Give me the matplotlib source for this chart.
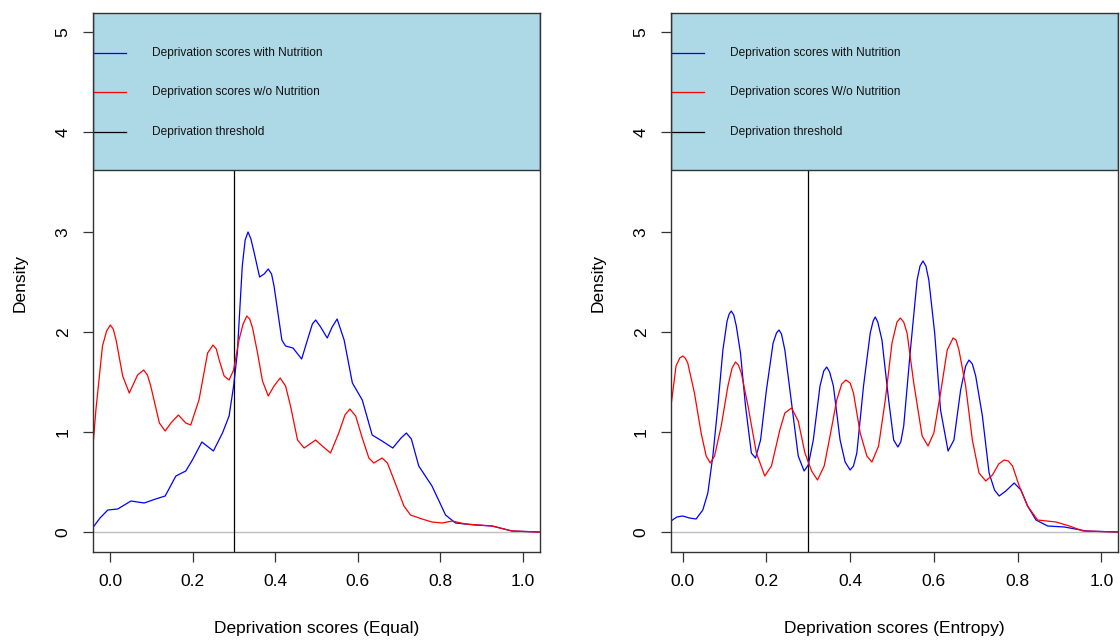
import matplotlib
matplotlib.use("Agg")
import matplotlib.pyplot as plt
import matplotlib.transforms as mtransforms
from matplotlib.patches import Rectangle

plt.rcParams['font.family'] = ['Liberation Sans', 'DejaVu Sans']

# ---- values (density curves) ----
eq_blue_x = [-0.043, -0.025, -0.006, 0.018, 0.05, 0.082, 0.11, 0.133, 0.159, 0.183, 0.199, 0.222, 0.25,
             0.272, 0.288, 0.299, 0.308, 0.32, 0.327, 0.334, 0.341, 0.349, 0.362, 0.373, 0.383, 0.391,
             0.397, 0.416, 0.425, 0.443, 0.464, 0.478, 0.49, 0.498, 0.51, 0.526, 0.538, 0.55, 0.567,
             0.587, 0.611, 0.635, 0.659, 0.685, 0.705, 0.718, 0.73, 0.748, 0.78, 0.813, 0.837, 0.885,
             0.926, 0.974, 1.04]
eq_blue_y = [0.04, 0.14, 0.22, 0.23, 0.31, 0.29, 0.33, 0.36, 0.56, 0.61, 0.72, 0.90, 0.81,
             0.99, 1.16, 1.46, 1.79, 2.66, 2.92, 3.0, 2.93, 2.79, 2.55, 2.58, 2.63, 2.58,
             2.46, 1.92, 1.86, 1.84, 1.73, 1.92, 2.08, 2.12, 2.05, 1.94, 2.05, 2.13, 1.92,
             1.49, 1.32, 0.97, 0.91, 0.84, 0.94, 0.99, 0.93, 0.66, 0.46, 0.17, 0.09, 0.07,
             0.06, 0.01, 0.0]

eq_red_x = [-0.043, -0.035, -0.019, -0.009, 0.0, 0.007, 0.014, 0.03, 0.046, 0.066, 0.081, 0.09,
            0.098, 0.119, 0.133, 0.147, 0.165, 0.183, 0.195, 0.215, 0.236, 0.249, 0.257, 0.264,
            0.276, 0.288, 0.299, 0.312, 0.322, 0.331, 0.338, 0.345, 0.357, 0.369, 0.383, 0.397,
            0.412, 0.425, 0.437, 0.454, 0.47, 0.498, 0.514, 0.534, 0.554, 0.569, 0.581, 0.595,
            0.611, 0.627, 0.639, 0.659, 0.672, 0.688, 0.712, 0.728, 0.756, 0.78, 0.805, 0.829,
            0.861, 0.926, 0.974, 1.04]
eq_red_y = [0.81, 1.22, 1.86, 2.01, 2.07, 2.03, 1.92, 1.56, 1.39, 1.57, 1.62, 1.57,
            1.46, 1.09, 1.01, 1.09, 1.17, 1.09, 1.07, 1.32, 1.79, 1.87, 1.83, 1.72,
            1.56, 1.52, 1.62, 1.92, 2.08, 2.16, 2.13, 2.04, 1.79, 1.51, 1.36, 1.46,
            1.54, 1.46, 1.26, 0.92, 0.84, 0.92, 0.86, 0.79, 0.99, 1.17, 1.23, 1.16,
            0.94, 0.74, 0.69, 0.74, 0.69, 0.52, 0.26, 0.17, 0.13, 0.10, 0.09, 0.11,
            0.08, 0.06, 0.01, 0.0]

en_blue_x = [-0.028, -0.014, 0.0, 0.016, 0.032, 0.048, 0.06, 0.072, 0.084, 0.096, 0.106, 0.111,
             0.116, 0.122, 0.128, 0.138, 0.15, 0.164, 0.174, 0.186, 0.2, 0.216, 0.224, 0.23,
             0.236, 0.244, 0.26, 0.276, 0.29, 0.3, 0.312, 0.328, 0.337, 0.344, 0.351, 0.36,
             0.376, 0.388, 0.4, 0.408, 0.416, 0.432, 0.448, 0.455, 0.46, 0.466, 0.476, 0.492,
             0.504, 0.514, 0.521, 0.528, 0.544, 0.56, 0.567, 0.574, 0.581, 0.588, 0.602, 0.616,
             0.634, 0.648, 0.664, 0.676, 0.684, 0.692, 0.7, 0.716, 0.732, 0.745, 0.756, 0.772,
             0.792, 0.808, 0.824, 0.844, 0.872, 0.912, 0.964, 1.04]
en_blue_y = [0.11, 0.15, 0.16, 0.14, 0.13, 0.22, 0.39, 0.76, 1.26, 1.82, 2.11, 2.18,
             2.21, 2.17, 2.06, 1.79, 1.26, 0.79, 0.74, 0.92, 1.42, 1.89, 1.99, 2.02,
             1.98, 1.82, 1.29, 0.76, 0.61, 0.67, 0.92, 1.46, 1.61, 1.65, 1.60, 1.46,
             0.92, 0.70, 0.62, 0.66, 0.79, 1.46, 1.99, 2.11, 2.15, 2.10, 1.92, 1.32,
             0.92, 0.85, 0.90, 1.06, 1.82, 2.52, 2.66, 2.71, 2.66, 2.52, 1.99, 1.22,
             0.81, 0.92, 1.42, 1.66, 1.72, 1.68, 1.56, 1.16, 0.59, 0.42, 0.36, 0.41,
             0.49, 0.42, 0.26, 0.12, 0.06, 0.05, 0.01, 0.0]

en_red_x = [-0.028, -0.016, -0.007, 0.0, 0.006, 0.012, 0.028, 0.044, 0.056, 0.066, 0.076, 0.092,
            0.108, 0.118, 0.126, 0.133, 0.14, 0.156, 0.176, 0.196, 0.212, 0.232, 0.244, 0.26,
            0.276, 0.292, 0.308, 0.322, 0.338, 0.352, 0.368, 0.38, 0.39, 0.4, 0.408, 0.424,
            0.44, 0.452, 0.468, 0.484, 0.5, 0.512, 0.52, 0.528, 0.536, 0.552, 0.572, 0.586,
            0.6, 0.616, 0.632, 0.646, 0.653, 0.66, 0.676, 0.692, 0.708, 0.724, 0.74, 0.755,
            0.768, 0.778, 0.788, 0.804, 0.824, 0.848, 0.892, 0.924, 0.956, 1.04]
en_red_y = [1.26, 1.66, 1.74, 1.76, 1.74, 1.69, 1.39, 0.99, 0.76, 0.69, 0.76, 1.06,
            1.46, 1.64, 1.70, 1.67, 1.59, 1.26, 0.79, 0.56, 0.66, 1.02, 1.19, 1.24,
            1.11, 0.79, 0.61, 0.52, 0.66, 0.96, 1.32, 1.48, 1.52, 1.49, 1.39, 0.99,
            0.76, 0.70, 0.86, 1.32, 1.89, 2.10, 2.14, 2.10, 1.99, 1.49, 0.96, 0.86,
            0.99, 1.39, 1.82, 1.94, 1.92, 1.82, 1.46, 0.92, 0.59, 0.51, 0.57, 0.68,
            0.72, 0.71, 0.66, 0.46, 0.26, 0.12, 0.10, 0.06, 0.01, 0.0]

threshold = 0.3
x_ticks = [0.0, 0.2, 0.4, 0.6, 0.8, 1.0]
y_ticks = [0, 1, 2, 3, 4, 5]

panels = [
    dict(bx=eq_blue_x, by=eq_blue_y, rx=eq_red_x, ry=eq_red_y, xlim=(-0.042, 1.042),
         xlabel="Deprivation scores (Equal)",
         labels=["Deprivation scores with Nutrition", "Deprivation scores w/o Nutrition",
                 "Deprivation threshold"]),
    dict(bx=en_blue_x, by=en_blue_y, rx=en_red_x, ry=en_red_y, xlim=(-0.028, 1.040),
         xlabel="Deprivation scores (Entropy)",
         labels=["Deprivation scores with Nutrition", "Deprivation scores W/o Nutrition",
                 "Deprivation threshold"]),
]

fig = plt.figure(figsize=(11.2, 6.43), dpi=100)
lefts = [93 / 1120, 671 / 1120]
width = 447 / 1120
bottom = 1 - 552 / 643
height = (552 - 13) / 643

for p, left in zip(panels, lefts):
    ax = fig.add_axes([left, bottom, width, height])
    ax.set_xlim(*p["xlim"])
    ax.set_ylim(-0.2, 5.19)

    ax.axhline(0, color="#bebebe", lw=1, zorder=1)
    ax.axvline(threshold, color="black", lw=0.9, zorder=2)
    ax.plot(p["bx"], p["by"], color="blue", lw=0.9, zorder=3)
    ax.plot(p["rx"], p["ry"], color="red", lw=0.9, zorder=3)

    # legend block (R style, lightblue background across the top)
    trans = mtransforms.blended_transform_factory(ax.transAxes, ax.transData)
    ax.add_patch(Rectangle((0, 3.62), 1, 1.7, transform=trans, facecolor="#add8e6",
                           edgecolor="#333333", lw=1, zorder=5))
    for lab, col, yy in zip(p["labels"], ["blue", "red", "black"], [4.79, 4.40, 4.00]):
        ax.plot([0, 0.074], [yy, yy], color=col, lw=0.9, transform=trans, zorder=6)
        ax.text(0.132, yy, lab, transform=trans, fontsize=8.6, va="center", ha="left",
                color="#111111", zorder=6)

    ax.set_xticks(x_ticks)
    ax.set_xticklabels([f"{t:.1f}" for t in x_ticks])
    ax.set_yticks(y_ticks)
    ax.set_yticklabels([str(t) for t in y_ticks], rotation=90, va="center")
    ax.tick_params(axis="both", direction="out", length=7, width=0.9, colors="#333333",
                   labelsize=12.5, labelcolor="black")
    ax.tick_params(axis="x", pad=9)
    ax.tick_params(axis="y", pad=9)
    for s in ax.spines.values():
        s.set_color("#333333")
        s.set_linewidth(1)
        s.set_zorder(7)
    ax.set_xlabel(p["xlabel"], fontsize=12.5, labelpad=23)
    ax.set_ylabel("Density", fontsize=12.5, labelpad=20)

fig.savefig("out.png", dpi=100)
